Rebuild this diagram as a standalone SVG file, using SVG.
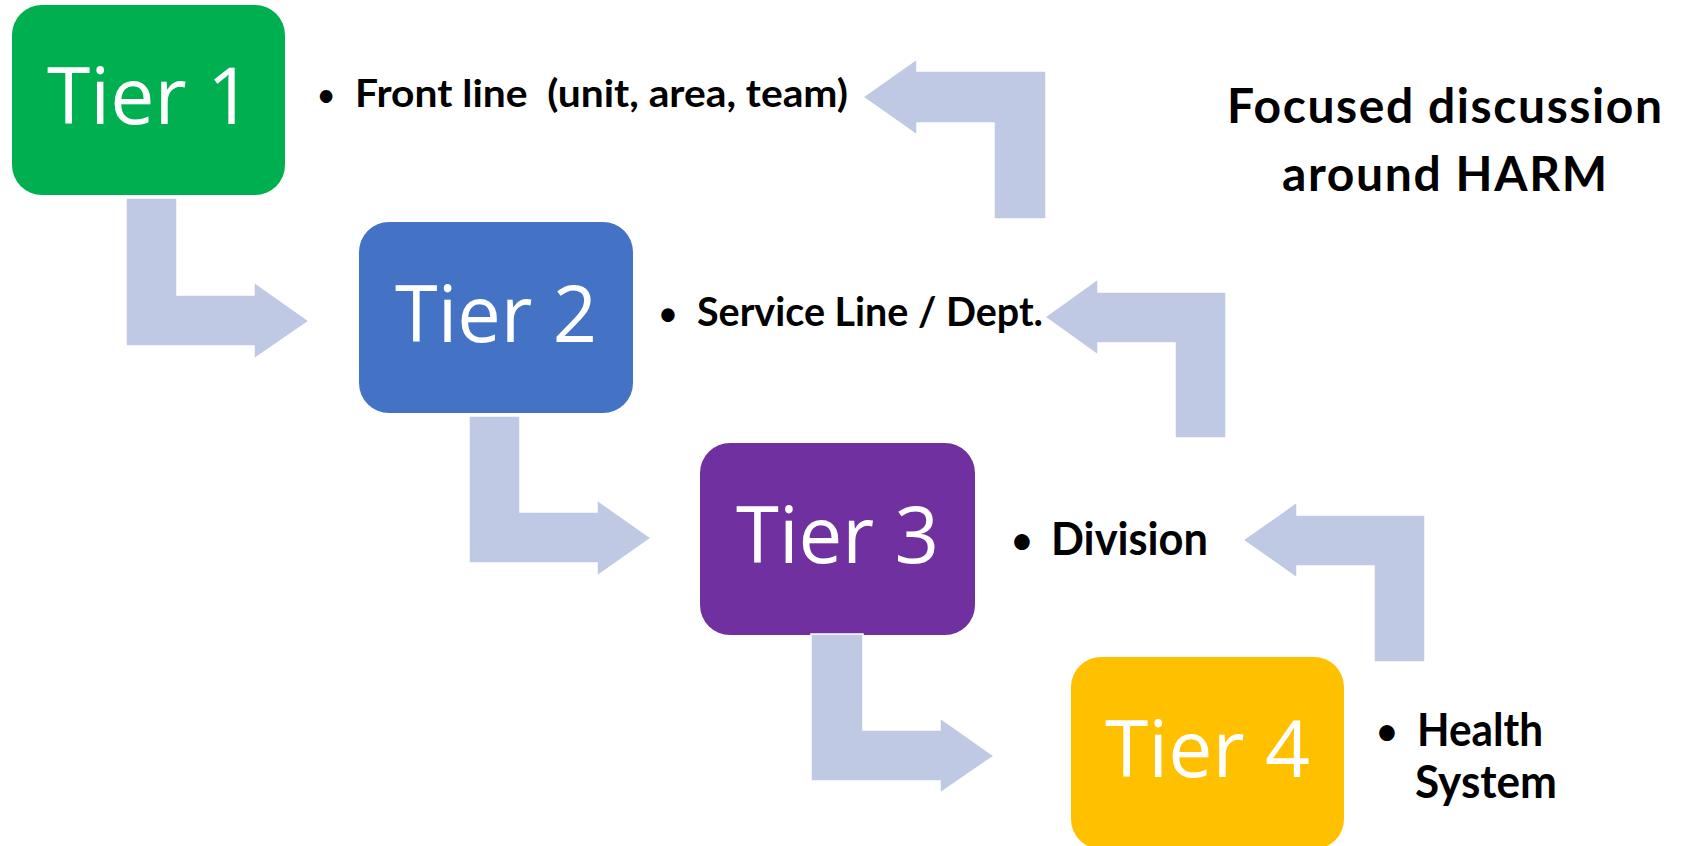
<svg xmlns="http://www.w3.org/2000/svg" width="1683" height="846" viewBox="0 0 1683 846">
<style>
  .box { stroke: none; }
  .tier { font-family: "Open Sans", "Liberation Sans", sans-serif; font-size: 78px; fill: #FFFFFF; }
  .lbl { font-family: Lato, "Liberation Sans", sans-serif; font-weight: 700; fill: #000000; }
  .bul { font-family: Lato, "Liberation Sans", sans-serif; fill: #000000; text-anchor: middle; }
  .title { font-family: Lato, "Liberation Sans", sans-serif; font-weight: 700; font-size: 48px; fill: #000000; }
  .arrow { fill: #BFC9E3; stroke: #FFFFFF; stroke-width: 1.5; }
</style>
<rect width="1683" height="846" fill="#FFFFFF"/>

<g id="tier1">
  <rect class="box" x="12" y="5" width="273" height="190" rx="30" fill="#00B050"/>
  <text class="tier" x="47" y="124" textLength="205" lengthAdjust="spacingAndGlyphs">Tier 1</text>
</g>
<g id="tier2">
  <rect class="box" x="359" y="222" width="274" height="191" rx="30" fill="#4472C4"/>
  <text class="tier" x="395" y="342" textLength="202" lengthAdjust="spacingAndGlyphs">Tier 2</text>
</g>
<g id="tier3">
  <rect class="box" x="700" y="443" width="275" height="192" rx="30" fill="#7030A0"/>
  <text class="tier" x="736" y="563" textLength="203" lengthAdjust="spacingAndGlyphs">Tier 3</text>
</g>
<g id="tier4">
  <rect class="box" x="1071" y="657" width="273" height="192" rx="30" fill="#FFC000"/>
  <text class="tier" x="1105" y="777" textLength="205" lengthAdjust="spacingAndGlyphs">Tier 4</text>
</g>

<g id="connectors">
  <path class="arrow" d="M126,198 H177 V295 H254 V282 L309,321 L254,359 V346 H126 Z"/>
  <path class="arrow" d="M469,416 H520 V512 H597 V500 L651,538 L597,576 V563 H469 Z"/>
  <path class="arrow" d="M811,634 H863 V730 H940 V718 L994,756 L940,793 V781 H811 Z"/>
  <path class="arrow" d="M1046,219 H994 V123 H917 V135 L863,97 L917,59 V71 H1046 Z"/>
  <path class="arrow" d="M1226,438 H1175 V343 H1098 V355 L1045,317 L1098,279 V292 H1226 Z"/>
  <path class="arrow" d="M1425,662 H1374 V566 H1297 V578 L1243,540 L1297,502 V515 H1425 Z"/>
</g>

<g id="label1">
  <text class="bul" x="326" y="107" font-size="34">•</text>
  <text class="lbl" x="355" y="107" font-size="38" textLength="493" lengthAdjust="spacingAndGlyphs" xml:space="preserve">Front line  (unit, area, team)</text>
</g>
<g id="label2">
  <text class="bul" x="668" y="326" font-size="36">•</text>
  <text class="lbl" x="697" y="326" font-size="40" textLength="346" lengthAdjust="spacingAndGlyphs">Service Line / Dept.</text>
</g>
<g id="label3">
  <text class="bul" x="1022" y="555" font-size="42">•</text>
  <text class="lbl" x="1051" y="555" font-size="45" textLength="157" lengthAdjust="spacingAndGlyphs">Division</text>
</g>
<g id="label4">
  <text class="bul" x="1387" y="746" font-size="42">•</text>
  <text class="lbl" x="1417" y="746" font-size="46" textLength="126" lengthAdjust="spacingAndGlyphs">Health</text>
  <text class="lbl" x="1415" y="798" font-size="46" textLength="142" lengthAdjust="spacingAndGlyphs">System</text>
</g>
<g id="title">
  <text class="title" x="1227" y="123" textLength="435">Focused discussion</text>
  <text class="title" x="1282" y="191" textLength="325">around HARM</text>
</g>
</svg>
